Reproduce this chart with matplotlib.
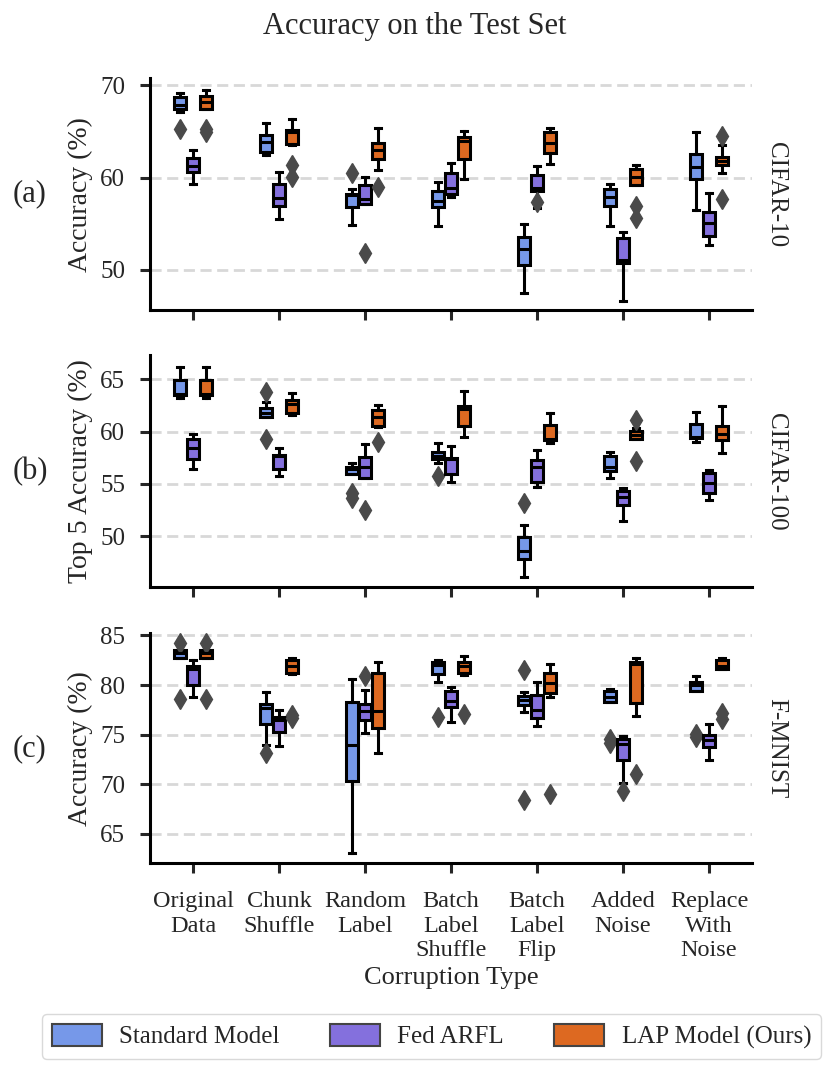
import matplotlib
matplotlib.use("Agg")
import matplotlib.pyplot as plt
from matplotlib.patches import Patch

plt.rcParams['font.family'] = ['Liberation Serif', 'DejaVu Serif']
plt.rcParams['text.color'] = '#262626'
plt.rcParams['axes.labelcolor'] = '#262626'
plt.rcParams['xtick.color'] = '#262626'
plt.rcParams['ytick.color'] = '#262626'

# Datos
categorias = ["Original\nData", "Chunk\nShuffle", "Random\nLabel", "Batch\nLabel\nShuffle",
              "Batch\nLabel\nFlip", "Added\nNoise", "Replace\nWith\nNoise"]
modelos = ["Standard Model", "Fed ARFL", "LAP Model (Ours)"]
colores = ["#7698e9", "#8470dd", "#dd6921"]

# (whislo, q1, med, q3, whishi) por categoria
std_c10 = [(67.1, 67.5, 67.9, 68.8, 69.2), (62.5, 62.8, 63.9, 64.6, 65.9),
           (54.9, 56.8, 58.15, 58.25, 58.8), (54.7, 56.8, 57.5, 58.5, 59.5),
           (47.5, 50.5, 52.2, 53.6, 55.0), (54.8, 56.9, 57.9, 58.75, 59.3),
           (56.5, 59.8, 61.2, 62.6, 65.0)]
std_c10_out = [[65.3], [], [60.5], [], [], [], []]
arfl_c10 = [(59.3, 60.6, 61.3, 62.1, 63.0), (55.5, 56.9, 57.8, 59.3, 60.6),
            (57.1, 57.15, 57.7, 59.2, 60.05), (57.95, 58.2, 58.9, 60.5, 61.6),
            (56.7, 58.5, 58.9, 60.3, 61.25), (46.6, 50.7, 51.1, 53.45, 54.1),
            (52.7, 53.7, 55.05, 56.3, 58.3)]
arfl_c10_out = [[], [], [51.8], [], [57.4], [], []]
lap_c10 = [(67.4, 67.45, 68.2, 68.85, 69.5), (63.5, 63.6, 64.95, 65.2, 66.4),
           (60.8, 62.0, 63.0, 63.8, 65.4), (59.8, 62.0, 64.0, 64.4, 65.1),
           (61.5, 62.7, 63.8, 64.9, 65.4), (59.2, 59.2, 60.05, 60.9, 61.4),
           (60.5, 61.4, 61.8, 62.2, 63.5)]
lap_c10_out = [[64.9, 65.3], [61.4, 60.05], [59.0], [], [], [56.9, 55.6], [64.5, 57.7]]

std_c100 = [(63.2, 63.5, 63.6, 64.9, 66.2), (61.4, 61.4, 61.75, 62.3, 62.8),
            (55.9, 55.95, 56.4, 56.65, 56.95), (56.95, 57.35, 57.65, 58.05, 58.95),
            (46.1, 47.8, 48.6, 49.9, 51.1), (55.55, 56.2, 56.6, 57.7, 58.05),
            (59.0, 59.4, 59.5, 60.7, 61.9)]
std_c100_out = [[], [63.8, 59.3], [54.15, 53.65], [55.8], [53.2], [], []]
arfl_c100 = [(56.4, 57.35, 58.4, 59.3, 59.8), (55.75, 56.4, 57.7, 57.8, 58.45),
             (55.6, 55.6, 56.6, 57.6, 58.8), (55.2, 55.95, 57.4, 57.5, 58.6),
             (54.7, 55.2, 56.6, 57.3, 58.2), (51.45, 53.0, 53.7, 54.35, 54.65),
             (53.45, 54.1, 55.05, 56.0, 56.3)]
arfl_c100_out = [[], [], [52.5], [], [], [], []]
lap_c100 = [(63.2, 63.5, 63.6, 64.9, 66.2), (61.55, 61.75, 62.65, 63.0, 63.65),
            (60.4, 60.5, 61.35, 62.05, 62.5), (59.45, 60.5, 62.2, 62.4, 63.9),
            (58.9, 59.2, 59.3, 60.6, 61.8), (59.3, 59.3, 59.7, 60.1, 60.3),
            (58.0, 59.2, 59.8, 60.5, 62.4)]
lap_c100_out = [[], [], [59.0], [], [], [61.1, 57.2], []]

std_fm = [(82.7, 82.75, 83.2, 83.5, 83.5), (73.9, 76.1, 77.7, 78.1, 79.3),
          (63.1, 70.3, 73.9, 78.3, 80.6), (80.3, 81.15, 82.0, 82.35, 82.5),
          (77.3, 78.0, 78.5, 78.9, 79.3), (78.3, 78.3, 78.75, 79.4, 79.55),
          (79.4, 79.4, 79.95, 80.35, 80.9)]
std_fm_out = [[84.2, 78.6], [73.1], [], [76.8], [81.5, 68.4], [74.6, 74.2], [75.1, 74.8]]
arfl_fm = [(78.75, 79.95, 81.6, 81.95, 82.5), (73.8, 75.3, 76.45, 76.8, 77.45),
           (75.2, 76.5, 77.4, 78.1, 79.5), (76.25, 77.8, 78.4, 79.35, 79.8),
           (75.85, 76.65, 77.45, 78.95, 80.35), (70.15, 72.45, 74.1, 74.6, 74.85),
           (72.45, 73.7, 74.5, 75.0, 76.1)]
arfl_fm_out = [[], [], [80.95], [], [], [69.3], []]
lap_fm = [(82.7, 82.75, 83.2, 83.5, 83.5), (81.1, 81.2, 81.9, 82.5, 82.75),
          (73.1, 75.7, 77.4, 81.2, 82.3), (81.0, 81.2, 81.95, 82.35, 82.9),
          (78.8, 79.2, 80.2, 81.2, 82.1), (76.85, 78.2, 82.1, 82.35, 82.75),
          (81.6, 81.6, 81.95, 82.5, 82.75)]
lap_fm_out = [[84.2, 78.6], [77.0, 76.7], [], [77.05], [69.0], [71.0], [77.2, 76.6]]

paneles = [
    ("(a)", "Accuracy (%)", "CIFAR-10", [std_c10, arfl_c10, lap_c10],
     [std_c10_out, arfl_c10_out, lap_c10_out], [50, 60, 70], (45.6, 70.8)),
    ("(b)", "Top 5 Accuracy (%)", "CIFAR-100", [std_c100, arfl_c100, lap_c100],
     [std_c100_out, arfl_c100_out, lap_c100_out], [50, 55, 60, 65], (45.1, 67.3)),
    ("(c)", "Accuracy (%)", "F-MNIST", [std_fm, arfl_fm, lap_fm],
     [std_fm_out, arfl_fm_out, lap_fm_out], [65, 70, 75, 80, 85], (62.0, 85.2)),
]

fig = plt.figure(figsize=(8.3, 10.7), dpi=100)
posiciones_ejes = [(0.181, 0.710, 0.725, 0.217), (0.181, 0.451, 0.725, 0.217),
                   (0.181, 0.193, 0.725, 0.215)]
desplaz = [-0.15, 0.0, 0.15]
lw = 2.2

for (etiqueta, ylabel, nombre, series, atipicos, yticks, ylim), pos in zip(paneles, posiciones_ejes):
    ax = fig.add_axes(pos)
    for grid_y in yticks:
        ax.axhline(grid_y, color='#d8d8d8', linestyle=(0, (4, 2)), linewidth=2, zorder=0)
    for m, (serie, outs) in enumerate(zip(series, atipicos)):
        stats = []
        for (lo, q1, med, q3, hi), fl in zip(serie, outs):
            stats.append(dict(whislo=lo, q1=q1, med=med, q3=q3, whishi=hi, fliers=fl))
        ax.bxp(stats, positions=[i + desplaz[m] for i in range(len(categorias))],
               widths=0.14, capwidths=0.07, patch_artist=True, manage_ticks=False,
               boxprops=dict(facecolor=colores[m], edgecolor='black', linewidth=lw),
               medianprops=dict(color='black', linewidth=lw),
               whiskerprops=dict(color='black', linewidth=lw),
               capprops=dict(color='black', linewidth=lw),
               flierprops=dict(marker='d', markerfacecolor='#4a4a4a', markeredgecolor='#4a4a4a',
                               markersize=10))
    ax.set_xlim(-0.5, 6.5)
    ax.set_ylim(*ylim)
    ax.set_yticks(yticks)
    ax.set_xticks(range(len(categorias)))
    ax.tick_params(axis='both', labelsize=18, width=lw, length=7)
    ax.tick_params(axis='y', pad=11)
    ax.tick_params(axis='x', pad=13)
    ax.set_ylabel(ylabel, fontsize=20, labelpad=5)
    for lado in ['top', 'right']:
        ax.spines[lado].set_visible(False)
    for lado in ['left', 'bottom']:
        ax.spines[lado].set_linewidth(lw)
    ax.text(1.022, 0.5, nombre, transform=ax.transAxes, rotation=270,
            ha='left', va='center', fontsize=18)
    fig.text(0.036, pos[1] + pos[3] / 2, etiqueta, ha='center', va='center', fontsize=22)
    if etiqueta == "(c)":
        ax.set_xticklabels(categorias, fontsize=17.5, linespacing=1.22)
        ax.set_xlabel("Corruption Type", fontsize=19, labelpad=4)
    else:
        ax.set_xticklabels([])

fig.suptitle("Accuracy on the Test Set", fontsize=22, y=0.989)

manejadores = [Patch(facecolor=c, edgecolor='#444444', linewidth=1.5) for c in colores]
fig.legend(manejadores, modelos, loc='center', bbox_to_anchor=(0.52, 0.0315), ncol=3,
           fontsize=18, handlelength=2.0, handleheight=1.0, columnspacing=2.0,
           handletextpad=0.7, frameon=True, edgecolor='#d0d0d0')

plt.savefig("out.png", dpi=100)
